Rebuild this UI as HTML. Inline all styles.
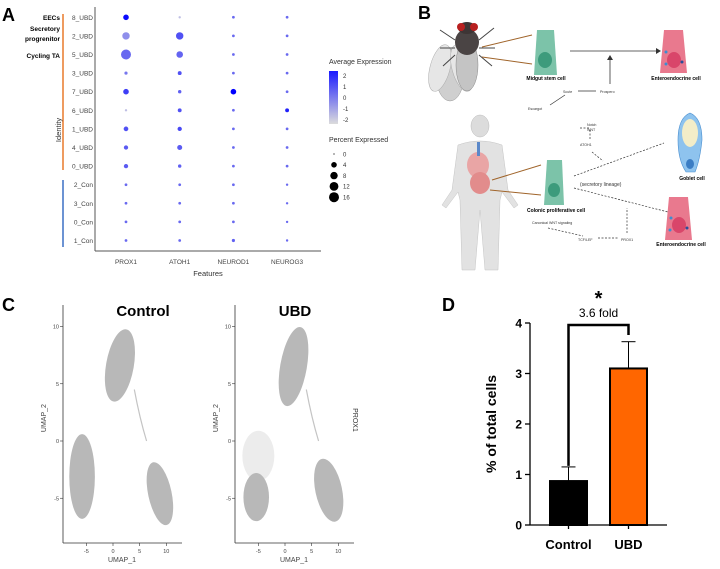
<!DOCTYPE html>
<html><head><meta charset="utf-8"><style>
body{margin:0;background:#fff;}
svg{display:block;font-family:"Liberation Sans",sans-serif;}
</style></head><body>
<svg width="720" height="569" viewBox="0 0 720 569">
<g font-weight="bold" font-size="18" fill="#000">
<text x="2" y="21">A</text>
<text x="418" y="19">B</text>
<text x="2" y="311">C</text>
<text x="442" y="311">D</text>
</g>

<g id="panelA">
<line x1="95" y1="7" x2="95" y2="251" stroke="#555" stroke-width="1"/>
<line x1="95" y1="251" x2="321" y2="251" stroke="#555" stroke-width="1"/>
<line x1="63" y1="14" x2="63" y2="170" stroke="#e97a2c" stroke-width="1.5"/>
<line x1="63" y1="180" x2="63" y2="247" stroke="#3a6fc4" stroke-width="1.5"/>
<g font-size="6.5" font-weight="bold" text-anchor="end">
<text x="60" y="20">EECs</text>
<text x="60" y="31">Secretory</text>
<text x="60" y="41">progrenitor</text>
<text x="60" y="58">Cycling TA</text>
</g>
<text transform="translate(61,130) rotate(-90)" font-size="7.5" fill="#333" text-anchor="middle">Identity</text>
<text x="208" y="276" font-size="7.5" fill="#333" text-anchor="middle">Features</text>
<text x="329" y="64" font-size="7" fill="#333">Average Expression</text>
<defs><linearGradient id="cg" x1="0" y1="0" x2="0" y2="1"><stop offset="0" stop-color="#1a1aff"/><stop offset="1" stop-color="#dcdcdc"/></linearGradient></defs>
<rect x="329" y="71" width="9" height="53" fill="url(#cg)"/>
<g font-size="6" fill="#333">
<text x="343" y="78">2</text><text x="343" y="89">1</text><text x="343" y="100">0</text><text x="343" y="111">-1</text><text x="343" y="122">-2</text>
</g>
<text x="329" y="142" font-size="7" fill="#333">Percent Expressed</text>
</g>

<g id="panelB">
<g>
<ellipse cx="450" cy="75" rx="14" ry="26" fill="#cfcfcf" stroke="#999" stroke-width=".5"/>
<ellipse cx="440" cy="68" rx="10" ry="24" fill="#e6e6e6" stroke="#aaa" stroke-width=".5" transform="rotate(15 440 68)"/>
<ellipse cx="462" cy="68" rx="10" ry="24" fill="#e6e6e6" stroke="#aaa" stroke-width=".5" transform="rotate(-15 462 68)"/>
<ellipse cx="467" cy="65" rx="11" ry="26" fill="#c4c4c4" stroke="#888" stroke-width=".5"/>
<ellipse cx="467" cy="42" rx="12" ry="13" fill="#4a4444"/>
<ellipse cx="467" cy="28" rx="9" ry="6" fill="#3d3535"/>
<circle cx="461" cy="27" r="4" fill="#b82020"/><circle cx="474" cy="27" r="4" fill="#b82020"/>
<path d="M455 40 L440 30 M479 40 L494 28 M455 48 L440 48 M479 48 L495 48 M455 55 L443 66 M479 55 L492 66" stroke="#444" stroke-width="1" fill="none"/>
</g>
<line x1="482" y1="47" x2="532" y2="35" stroke="#a0642a" stroke-width="1"/>
<line x1="482" y1="57" x2="532" y2="64" stroke="#a0642a" stroke-width="1"/>
<path d="M537 30 L554 30 L557 75 L534 75 Z" fill="#7cc3a9"/>
<ellipse cx="545" cy="60" rx="7" ry="8" fill="#3d9b7c"/>
<text x="546" y="80" font-size="5" font-weight="bold" text-anchor="middle">Midgut stem cell</text>
<line x1="570" y1="51" x2="656" y2="51" stroke="#333" stroke-width=".8"/>
<path d="M656 48 L661 51 L656 54 Z" fill="#333"/>
<line x1="610" y1="84" x2="610" y2="59" stroke="#333" stroke-width=".8"/>
<path d="M607 60 L610 55 L613 60 Z" fill="#333"/>
<path d="M664 30 L683 30 L687 73 L660 73 Z" fill="#e9798e"/>
<ellipse cx="674" cy="60" rx="7" ry="8" fill="#d9466a"/>
<circle cx="666" cy="52" r="1.5" fill="#3c8ed0"/><circle cx="666" cy="64" r="1.5" fill="#3c8ed0"/><circle cx="682" cy="62" r="1.5" fill="#2a4e9a"/>
<text x="676" y="80" font-size="5" font-weight="bold" text-anchor="middle">Enteroendocrine cell</text>
<g font-size="3.6" fill="#333">
<text x="563" y="93">Scute</text><text x="600" y="93">Prospero</text><text x="528" y="110">Escargot</text>
<text x="587" y="126">Notch</text><text x="587" y="131">WNT</text><text x="580" y="146">ATOH1</text>
<text x="532" y="224">Canonical WNT signaling</text><text x="578" y="241">TCF/LEF</text><text x="621" y="241">PROX1</text>
</g>
<line x1="578" y1="91" x2="596" y2="91" stroke="#333" stroke-width=".7"/>
<line x1="565" y1="95" x2="550" y2="105" stroke="#333" stroke-width=".7"/>
<g>
<ellipse cx="480" cy="126" rx="9" ry="11" fill="#dcdcdc" stroke="#bbb" stroke-width=".5"/>
<path d="M458 145 Q480 137 502 145 L508 190 L518 205 L514 208 L502 192 L500 200 L498 270 L485 270 L480 210 L475 270 L462 270 L460 200 L458 192 L446 208 L442 205 L452 190 Z" fill="#e2e2e2" stroke="#c4c4c4" stroke-width=".5"/>
<ellipse cx="478" cy="165" rx="11" ry="13" fill="#e9a5a5"/>
<ellipse cx="480" cy="183" rx="10" ry="11" fill="#e28c8c"/>
<rect x="477" y="142" width="3" height="14" fill="#5b88c9"/>
</g>
<line x1="492" y1="180" x2="541" y2="165" stroke="#a0642a" stroke-width="1"/>
<line x1="490" y1="190" x2="541" y2="195" stroke="#a0642a" stroke-width="1"/>
<path d="M547 160 L562 160 L564 205 L544 205 Z" fill="#7cc3a9"/>
<ellipse cx="554" cy="190" rx="6" ry="7" fill="#3d9b7c"/>
<text x="556" y="212" font-size="5" font-weight="bold" text-anchor="middle">Colonic proliferative cell</text>
<g stroke="#333" stroke-width=".7" stroke-dasharray="2,1.5" fill="none">
<line x1="574" y1="176" x2="664" y2="143"/>
<line x1="574" y1="188" x2="668" y2="212"/>
<line x1="580" y1="128" x2="590" y2="128"/>
<line x1="590" y1="130" x2="590" y2="140"/>
<line x1="592" y1="152" x2="603" y2="161"/>
<line x1="548" y1="228" x2="583" y2="236"/>
<line x1="598" y1="238" x2="618" y2="238"/>
<line x1="627" y1="233" x2="627" y2="208"/>
</g>
<text x="580" y="186" font-size="5" fill="#333">(secretory lineage)</text>
<path d="M690 113 Q702 118 702 140 Q700 160 695 172 L686 172 Q678 160 678 140 Q678 118 690 113 Z" fill="#8ec3ee" stroke="#4a8fd0" stroke-width=".6"/>
<ellipse cx="690" cy="133" rx="8" ry="14" fill="#f3edc8"/>
<ellipse cx="690" cy="164" rx="4" ry="5" fill="#3b7dc4"/>
<text x="692" y="180" font-size="5" font-weight="bold" text-anchor="middle">Goblet cell</text>
<path d="M669 197 L688 197 L692 240 L665 240 Z" fill="#e9798e"/>
<ellipse cx="679" cy="225" rx="7" ry="8" fill="#d9466a"/>
<circle cx="671" cy="218" r="1.5" fill="#3c8ed0"/><circle cx="670" cy="230" r="1.5" fill="#3c8ed0"/><circle cx="687" cy="228" r="1.5" fill="#2a4e9a"/>
<text x="681" y="246" font-size="5" font-weight="bold" text-anchor="middle">Enteroendocrine cell</text>
</g>

<g id="panelC"></g>
<text x="143" y="316" font-size="15" font-weight="bold" text-anchor="middle">Control</text>
<text x="295" y="316" font-size="15" font-weight="bold" text-anchor="middle">UBD</text>
<text transform="translate(353,420) rotate(90)" font-size="7" fill="#333" text-anchor="middle">PROX1</text>

<g id="panelD"></g>

<script>
// ===== Panel A data =====
const rowLabels = ["8_UBD","2_UBD","5_UBD","3_UBD","7_UBD","6_UBD","1_UBD","4_UBD","0_UBD","2_Con","3_Con","0_Con","1_Con"];
const geneLabels = ["PROX1","ATOH1","NEUROD1","NEUROG3"];
const pctProx1 = [4,8,16,0.8,4,0.3,2.5,2,2,0.5,0.5,0.5,0.5];
const pctAtoh1 = [0.3,8,6,1.5,1,1.5,2,3,1,0.5,0.5,0.5,0.5];
const pctNeurod1 = [0.5,0.5,0.5,0.5,4,0.5,0.5,0.5,0.5,0.5,0.5,0.5,0.8];
const pctNeurog3 = [0.5,0.5,0.5,0.5,0.5,1.5,0.5,0.5,0.5,0.3,0.3,0.3,0.3];
const expProx1 = [2.3,-0.5,0.3,0,1.2,-1.5,0.8,0.6,0.6,0.3,0.3,0.3,0.3];
const expAtoh1 = [-1.5,0.8,0.4,0.8,0.5,0.8,1,0.6,0.5,0.3,0.3,0.3,0.3];
const expNeurod1 = [0.3,0.3,0.3,0.3,2.5,0.3,0.3,0.3,0.3,0.3,0.3,0.3,0.5];
const expNeurog3 = [0.3,0.3,0.3,0.3,0.3,1.8,0.3,0.3,0.3,0.3,0.3,0.3,0.3];
const legendPct = [0,4,8,12,16];
const legendPctLabels = ["0","4","8","12","16"];

const NS="http://www.w3.org/2000/svg";
function mk(tag,attrs,parent){const e=document.createElementNS(NS,tag);for(const k in attrs)e.setAttribute(k,attrs[k]);parent.appendChild(e);return e;}
const rowY = i => 17.3 + i*18.6;
const colX = j => 126 + j*53.7;
const rScale = p => 0.6 + Math.sqrt(p/16)*4.4;
function colScale(v){const t=Math.max(0,Math.min(1,(v+2)/4.5));
 const r=Math.round(215-t*215), g=Math.round(215-t*215), b=Math.round(225+t*30);return `rgb(${r},${g},${b})`;}
const pA=document.getElementById('panelA');
rowLabels.forEach((l,i)=>{
 const t=mk('text',{x:93,y:rowY(i)+2.5,'font-size':6.5,fill:'#444','text-anchor':'end'},pA);t.textContent=l;
 
 
});
geneLabels.forEach((g,j)=>{
 const t=mk('text',{x:colX(j),y:264,'font-size':6.5,fill:'#444','text-anchor':'middle'},pA);t.textContent=g;
 
 
});
const pcts=[pctProx1,pctAtoh1,pctNeurod1,pctNeurog3], exps=[expProx1,expAtoh1,expNeurod1,expNeurog3];
pcts.forEach((arr,j)=>arr.forEach((p,i)=>{
 const c=mk('circle',{cx:colX(j),cy:rowY(i),r:rScale(p),fill:colScale(exps[j][i])},pA);
 
 
}));
legendPct.forEach((p,i)=>{
 const y=154+i*10.8;
 const c=mk('circle',{cx:334,cy:y,r:rScale(p),fill:'#000'},pA);
 
 
 const t=mk('text',{x:343,y:y+2.3,'font-size':6,fill:'#333'},pA);t.textContent=legendPctLabels[i];
});

// ===== Panel C data =====
const umapTicksX = [-5,0,5,10];
const umapTicksY = [10,5,0,-5];
// [cx, cy, rx, ry, rotationDeg] in UMAP units
const controlBlobs = [[1.3,6.6,2.6,3.2,10],[-5.8,-3.1,2.4,3.7,0],[8.8,-4.6,2.2,2.8,-12]];
const ubdBlobs = [[1.6,6.5,2.5,3.5,10],[-5.4,-4.9,2.4,2.1,0],[8.2,-4.3,2.5,2.8,-12]];
const ubdSparse = [-5,-1.3,3,2.2];
const pC=document.getElementById('panelC');
function umap(ox,blobs,name,sparse){
 const sx=v=>ox+50+v*5.33, sy=v=>441-v*11.45;
 const g=mk('g',{},pC);
 
 
 if(sparse){mk('ellipse',{cx:sx(sparse[0]),cy:sy(sparse[1]),rx:sparse[2]*5.33,ry:sparse[3]*11.45,fill:'#ececec'},g);}
 blobs.forEach(b=>{const e=mk('ellipse',{cx:sx(b[0]),cy:sy(b[1]),rx:b[2]*5.33,ry:b[3]*11.45,fill:'#b8b8b8',transform:`rotate(${b[4]} ${sx(b[0])} ${sy(b[1])})`},g);
  
  });
 mk('path',{d:`M${sx(4)} ${sy(4.5)} Q${sx(5)} ${sy(2)} ${sx(6.3)} ${sy(0)}`,stroke:'#c4c4c4','stroke-width':1.2,fill:'none'},g);
 mk('line',{x1:ox,y1:305,x2:ox,y2:543,stroke:'#333','stroke-width':.8},g);
 mk('line',{x1:ox,y1:543,x2:ox+119,y2:543,stroke:'#333','stroke-width':.8},g);
 umapTicksX.forEach(v=>{mk('line',{x1:sx(v),y1:543,x2:sx(v),y2:546,stroke:'#333','stroke-width':.6},g);
  const t=mk('text',{x:sx(v),y:553,'font-size':5.5,fill:'#444','text-anchor':'middle'},g);t.textContent=v;});
 umapTicksY.forEach(v=>{mk('line',{x1:ox-3,y1:sy(v),x2:ox,y2:sy(v),stroke:'#333','stroke-width':.6},g);
  const t=mk('text',{x:ox-4,y:sy(v)+2,'font-size':5.5,fill:'#444','text-anchor':'end'},g);t.textContent=v;});
 const tx=mk('text',{x:ox+59,y:562,'font-size':7,fill:'#444','text-anchor':'middle'},g);tx.textContent='UMAP_1';
 const ty=mk('text',{transform:`translate(${ox-17},${sy(2)}) rotate(-90)`,'font-size':7,fill:'#444','text-anchor':'middle'},g);ty.textContent='UMAP_2';
}
umap(63,controlBlobs,'control-umap',null);
umap(235,ubdBlobs,'ubd-umap',ubdSparse);

// ===== Panel D data =====
const groups = ["Control","UBD"];
const means = [0.87,3.1];
const errs = [0.28,0.53];
const yTicks = [0,1,2,3,4];
const barColors = ["#000000","#ff6600"];
const pD=document.getElementById('panelD');
const y0=525, ppu=50.5, yS=v=>y0-v*ppu;
const bx=[550,610], bw=37;
mk('line',{x1:530,y1:yS(4),x2:530,y2:y0,stroke:'#000','stroke-width':1.3},pD);
mk('line',{x1:530,y1:y0,x2:667,y2:y0,stroke:'#000','stroke-width':1.3},pD);
yTicks.forEach(v=>{mk('line',{x1:525,y1:yS(v),x2:530,y2:yS(v),stroke:'#000','stroke-width':1.3},pD);
 const t=mk('text',{x:522,y:yS(v)+4.5,'font-size':12,'font-weight':'bold','text-anchor':'end'},pD);t.textContent=v;});
const yt=mk('text',{transform:'translate(496,424) rotate(-90)','font-size':14,'font-weight':'bold','text-anchor':'middle'},pD);yt.textContent='% of total cells';


groups.forEach((gname,i)=>{
 const cx=bx[i]+bw/2;
 mk('line',{x1:cx,y1:yS(means[i]),x2:cx,y2:yS(means[i]+errs[i]),stroke:'#000','stroke-width':1},pD);
 mk('line',{x1:cx-7,y1:yS(means[i]+errs[i]),x2:cx+7,y2:yS(means[i]+errs[i]),stroke:'#000','stroke-width':1},pD);
 const r=mk('rect',{x:bx[i],y:yS(means[i]),width:bw,height:means[i]*ppu,fill:barColors[i],stroke:'#000','stroke-width':2},pD);
 
 
 mk('line',{x1:cx,y1:y0,x2:cx,y2:y0+4,stroke:'#000','stroke-width':1.3},pD);
 const t=mk('text',{x:cx,y:549,'font-size':13,'font-weight':'bold','text-anchor':'middle'},pD);t.textContent=gname;
 
 
});
const c1=bx[0]+bw/2,c2=bx[1]+bw/2;
mk('path',{d:`M${c1} ${yS(means[0]+errs[0])-1} L${c1} 325 L${c2} 325 L${c2} 335`,stroke:'#000','stroke-width':2.5,fill:'none'},pD);
const fl=mk('text',{x:(c1+c2)/2,y:317,'font-size':12,'text-anchor':'middle'},pD);fl.textContent='3.6 fold';


const st=mk('text',{x:(c1+c2)/2,y:305,'font-size':20,'font-weight':'bold','text-anchor':'middle'},pD);st.textContent='*';


</script>
</svg>
</body></html>
